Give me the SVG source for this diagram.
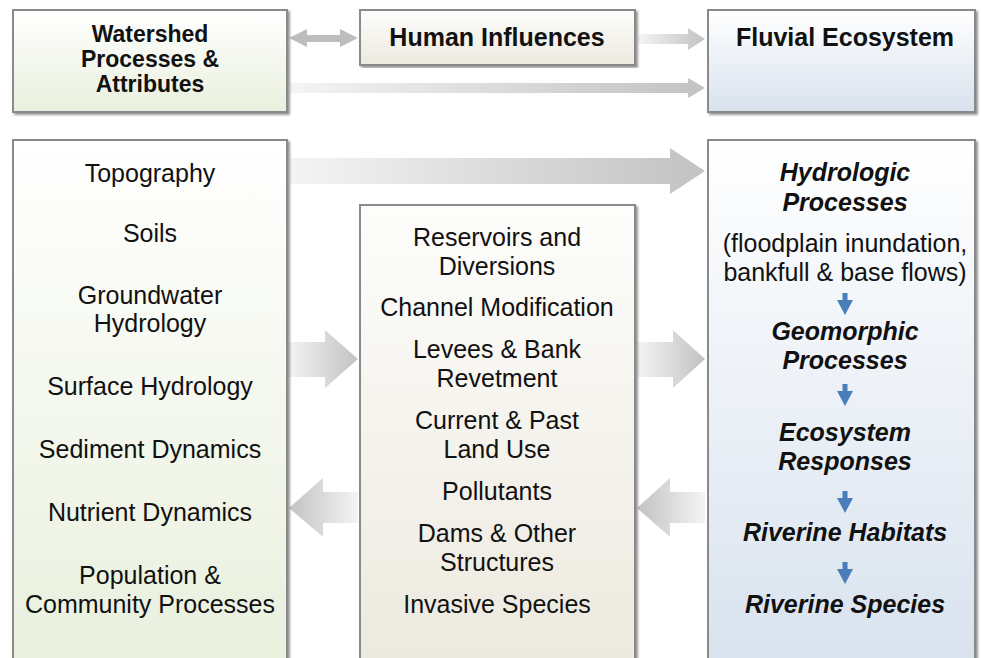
<svg xmlns="http://www.w3.org/2000/svg" width="981" height="658" viewBox="0 0 981 658">
<defs>
<linearGradient id="gGreen" x1="0" y1="0" x2="0" y2="1"><stop offset="0" stop-color="#ffffff"/><stop offset="1" stop-color="#e9f0dd"/></linearGradient>
<linearGradient id="gBeige" x1="0" y1="0" x2="0" y2="1"><stop offset="0" stop-color="#fdfdfc"/><stop offset="1" stop-color="#ece9de"/></linearGradient>
<linearGradient id="gBlue" x1="0" y1="0" x2="0" y2="1"><stop offset="0" stop-color="#ffffff"/><stop offset="1" stop-color="#d8e2ee"/></linearGradient>
<linearGradient id="aRight" x1="0" y1="0" x2="1" y2="0"><stop offset="0" stop-color="#f4f4f4"/><stop offset="1" stop-color="#c2c2c2"/></linearGradient>
<linearGradient id="aLeft" x1="1" y1="0" x2="0" y2="0"><stop offset="0" stop-color="#f4f4f4"/><stop offset="1" stop-color="#c2c2c2"/></linearGradient>
<filter id="sh" x="-5%" y="-5%" width="110%" height="110%"><feDropShadow dx="2" dy="2" stdDeviation="1" flood-color="#555" flood-opacity="0.6"/></filter>
</defs>
<style>
.box{stroke:#8a8a8a;stroke-width:2;filter:url(#sh)}
.t{font-family:"Liberation Sans",Arial,sans-serif;font-size:25px;fill:#111;text-anchor:middle}
.b{font-weight:bold}
.bi{font-weight:bold;font-style:italic}
.ws{font-size:23px}
.blue{fill:#4a7ebb}
</style>

<g id="connectors">
<polygon points="289,38 307,29 307,35 340,35 340,29 358,38 340,47 340,42 307,42 307,47" fill="#bdbdbd"/>
<polygon points="638,34 688,34 688,28 705,39 688,50 688,44 638,44" fill="url(#aRight)"/>
<polygon points="290,83 688,83 688,78 705,88 688,98 688,93 290,93" fill="url(#aRight)"/>
<polygon points="290,158 670,158 670,148 705,171 670,194 670,184 290,184" fill="url(#aRight)"/>
<polygon points="288,342 325,342 325,330 358,359 325,388 325,377 288,377" fill="url(#aRight)"/>
<polygon points="637,342 673,342 673,330 705,359 673,388 673,377 637,377" fill="url(#aRight)"/>
<polygon points="289,508 323,478 323,492 358,492 358,523 323,523 323,537" fill="url(#aLeft)"/>
<polygon points="637,508 670,478 670,492 705,492 705,523 670,523 670,537" fill="url(#aLeft)"/>
</g>

<g id="watershed-header">
<rect class="box" x="13" y="10" width="274" height="102" fill="url(#gGreen)"/>
<text class="t b ws" x="150" y="42">Watershed</text>
<text class="t b ws" x="150" y="67">Processes &amp;</text>
<text class="t b ws" x="150" y="92">Attributes</text>
</g>

<g id="human-header">
<rect class="box" x="360" y="10" width="275" height="55" fill="url(#gBeige)"/>
<text class="t b" x="497" y="46">Human Influences</text>
</g>

<g id="fluvial-header">
<rect class="box" x="708" y="10" width="267" height="102" fill="url(#gBlue)"/>
<text class="t b" x="845" y="46">Fluvial Ecosystem</text>
</g>

<g id="watershed-list">
<rect class="box" x="13" y="140" width="274" height="530" fill="url(#gGreen)"/>
<text class="t" x="150" y="182">Topography</text>
<text class="t" x="150" y="242">Soils</text>
<text class="t" x="150" y="304">Groundwater</text>
<text class="t" x="150" y="332">Hydrology</text>
<text class="t" x="150" y="395">Surface Hydrology</text>
<text class="t" x="150" y="458">Sediment Dynamics</text>
<text class="t" x="150" y="521">Nutrient Dynamics</text>
<text class="t" x="150" y="584">Population &amp;</text>
<text class="t" x="150" y="613">Community Processes</text>
</g>

<g id="human-list">
<rect class="box" x="360" y="205" width="275" height="465" fill="url(#gBeige)"/>
<text class="t" x="497" y="246">Reservoirs and</text>
<text class="t" x="497" y="275">Diversions</text>
<text class="t" x="497" y="316">Channel Modification</text>
<text class="t" x="497" y="358">Levees &amp; Bank</text>
<text class="t" x="497" y="387">Revetment</text>
<text class="t" x="497" y="429">Current &amp; Past</text>
<text class="t" x="497" y="458">Land Use</text>
<text class="t" x="497" y="500">Pollutants</text>
<text class="t" x="497" y="542">Dams &amp; Other</text>
<text class="t" x="497" y="571">Structures</text>
<text class="t" x="497" y="613">Invasive Species</text>
</g>

<g id="fluvial-list">
<rect class="box" x="708" y="140" width="267" height="530" fill="url(#gBlue)"/>
<text class="t bi" x="845" y="181">Hydrologic</text>
<text class="t bi" x="845" y="211">Processes</text>
<text class="t" x="845" y="252">(floodplain inundation,</text>
<text class="t" x="845" y="281">bankfull &amp; base flows)</text>
<polygon class="blue" points="842.5,293 847.5,293 847.5,300 853,300 845,315 837,300 842.5,300"/>
<text class="t bi" x="845" y="340">Geomorphic</text>
<text class="t bi" x="845" y="369">Processes</text>
<polygon class="blue" points="842.5,384 847.5,384 847.5,391 853,391 845,406 837,391 842.5,391"/>
<text class="t bi" x="845" y="441">Ecosystem</text>
<text class="t bi" x="845" y="470">Responses</text>
<polygon class="blue" points="842.5,491 847.5,491 847.5,498 853,498 845,513 837,498 842.5,498"/>
<text class="t bi" x="845" y="541">Riverine Habitats</text>
<polygon class="blue" points="842.5,562 847.5,562 847.5,569 853,569 845,584 837,569 842.5,569"/>
<text class="t bi" x="845" y="613">Riverine Species</text>
</g>
</svg>
